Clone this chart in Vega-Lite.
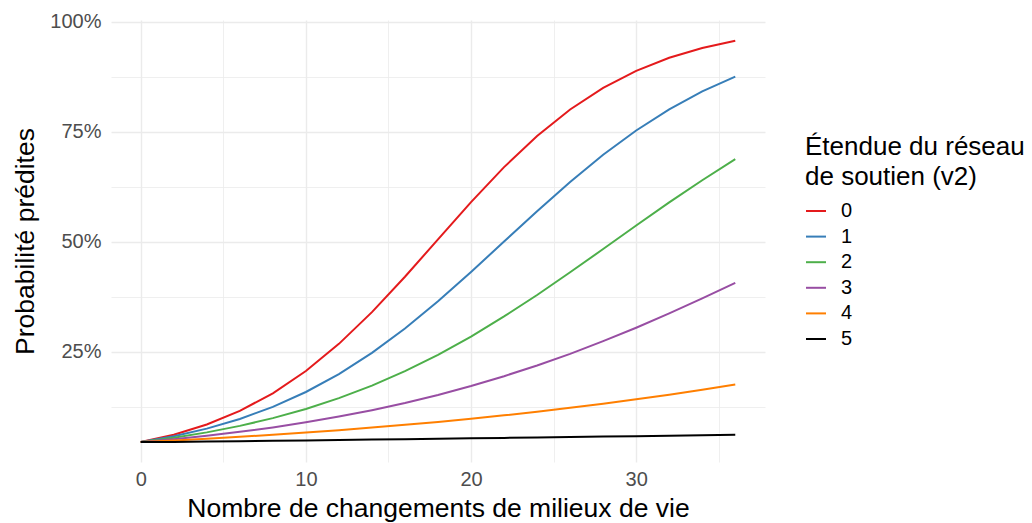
{
  "$schema": "https://vega.github.io/schema/vega-lite/v6.json",
  "autosize": {"type": "none"},
  "padding": {"left": 111, "top": 20, "right": 267, "bottom": 61},
  "width": 654,
  "height": 442,
  "background": "white",
  "config": {
    "view": {"stroke": null},
    "font": "Liberation Sans"
  },
  "data": {"values": [
    {"x":0,"g":"0","p":0.0455},{"x":2,"g":"0","p":0.0622},{"x":4,"g":"0","p":0.0854},{"x":6,"g":"0","p":0.1162},{"x":8,"g":"0","p":0.1562},{"x":10,"g":"0","p":0.2067},{"x":12,"g":"0","p":0.2684},{"x":14,"g":"0","p":0.3405},{"x":16,"g":"0","p":0.4209},{"x":18,"g":"0","p":0.5057},{"x":20,"g":"0","p":0.5903},{"x":22,"g":"0","p":0.6698},{"x":24,"g":"0","p":0.7406},{"x":26,"g":"0","p":0.8008},{"x":28,"g":"0","p":0.8498},{"x":30,"g":"0","p":0.8884},{"x":32,"g":"0","p":0.9181},{"x":34,"g":"0","p":0.9404},{"x":36,"g":"0","p":0.9569},
    {"x":0,"g":"1","p":0.0455},{"x":2,"g":"1","p":0.0586},{"x":4,"g":"1","p":0.0759},{"x":6,"g":"1","p":0.0979},{"x":8,"g":"1","p":0.1253},{"x":10,"g":"1","p":0.1591},{"x":12,"g":"1","p":0.1999},{"x":14,"g":"1","p":0.2481},{"x":16,"g":"1","p":0.3034},{"x":18,"g":"1","p":0.3652},{"x":20,"g":"1","p":0.4317},{"x":22,"g":"1","p":0.5008},{"x":24,"g":"1","p":0.5698},{"x":26,"g":"1","p":0.6362},{"x":28,"g":"1","p":0.6978},{"x":30,"g":"1","p":0.7531},{"x":32,"g":"1","p":0.8011},{"x":34,"g":"1","p":0.8417},{"x":36,"g":"1","p":0.8753},
    {"x":0,"g":"2","p":0.0455},{"x":2,"g":"2","p":0.0552},{"x":4,"g":"2","p":0.0674},{"x":6,"g":"2","p":0.0821},{"x":8,"g":"2","p":0.0997},{"x":10,"g":"2","p":0.1206},{"x":12,"g":"2","p":0.1452},{"x":14,"g":"2","p":0.1736},{"x":16,"g":"2","p":0.2065},{"x":18,"g":"2","p":0.2436},{"x":20,"g":"2","p":0.2851},{"x":22,"g":"2","p":0.3307},{"x":24,"g":"2","p":0.3794},{"x":26,"g":"2","p":0.4310},{"x":28,"g":"2","p":0.4838},{"x":30,"g":"2","p":0.5372},{"x":32,"g":"2","p":0.5898},{"x":34,"g":"2","p":0.6401},{"x":36,"g":"2","p":0.6879},
    {"x":0,"g":"3","p":0.0455},{"x":2,"g":"3","p":0.0519},{"x":4,"g":"3","p":0.0597},{"x":6,"g":"3","p":0.0686},{"x":8,"g":"3","p":0.0787},{"x":10,"g":"3","p":0.0902},{"x":12,"g":"3","p":0.1032},{"x":14,"g":"3","p":0.1178},{"x":16,"g":"3","p":0.1341},{"x":18,"g":"3","p":0.1524},{"x":20,"g":"3","p":0.1727},{"x":22,"g":"3","p":0.1950},{"x":24,"g":"3","p":0.2194},{"x":26,"g":"3","p":0.2458},{"x":28,"g":"3","p":0.2745},{"x":30,"g":"3","p":0.3051},{"x":32,"g":"3","p":0.3376},{"x":34,"g":"3","p":0.3717},{"x":36,"g":"3","p":0.4068},
    {"x":0,"g":"4","p":0.0455},{"x":2,"g":"4","p":0.0488},{"x":4,"g":"4","p":0.0528},{"x":6,"g":"4","p":0.0572},{"x":8,"g":"4","p":0.0619},{"x":10,"g":"4","p":0.0669},{"x":12,"g":"4","p":0.0724},{"x":14,"g":"4","p":0.0782},{"x":16,"g":"4","p":0.0845},{"x":18,"g":"4","p":0.0912},{"x":20,"g":"4","p":0.0984},{"x":22,"g":"4","p":0.1061},{"x":24,"g":"4","p":0.1143},{"x":26,"g":"4","p":0.1231},{"x":28,"g":"4","p":0.1325},{"x":30,"g":"4","p":0.1425},{"x":32,"g":"4","p":0.1530},{"x":34,"g":"4","p":0.1642},{"x":36,"g":"4","p":0.1761},
    {"x":0,"g":"5","p":0.0455},{"x":2,"g":"5","p":0.0458},{"x":4,"g":"5","p":0.0466},{"x":6,"g":"5","p":0.0475},{"x":8,"g":"5","p":0.0483},{"x":10,"g":"5","p":0.0492},{"x":12,"g":"5","p":0.0501},{"x":14,"g":"5","p":0.0510},{"x":16,"g":"5","p":0.0519},{"x":18,"g":"5","p":0.0529},{"x":20,"g":"5","p":0.0538},{"x":22,"g":"5","p":0.0548},{"x":24,"g":"5","p":0.0557},{"x":26,"g":"5","p":0.0568},{"x":28,"g":"5","p":0.0578},{"x":30,"g":"5","p":0.0588},{"x":32,"g":"5","p":0.0599},{"x":34,"g":"5","p":0.0609},{"x":36,"g":"5","p":0.0620}
  ]},
  "mark": {"type": "line", "strokeWidth": 2, "clip": true},
  "encoding": {
    "x": {
      "field": "x", "type": "quantitative",
      "scale": {"domain": [-1.8, 37.8], "nice": false, "zero": false},
      "axis": {
        "title": "Nombre de changements de milieux de vie",
        "values": [0, 5, 10, 15, 20, 25, 30, 35],
        "labelExpr": "datum.value % 10 === 0 ? datum.label : ''",
        "domain": false, "ticks": false,
        "grid": true, "gridColor": "#EBEBEB",
        "gridWidth": {"condition": {"test": "datum.value % 10 === 0", "value": 1.4}, "value": 0.8},
        "labelFont": "Liberation Sans", "labelFontSize": 20, "labelColor": "#4D4D4D", "labelPadding": 7,
        "titleFont": "Liberation Sans", "titleFontSize": 26.5, "titleFontWeight": "normal", "titleColor": "#000000", "titlePadding": 6
      }
    },
    "y": {
      "field": "p", "type": "quantitative",
      "scale": {"domain": [0.0001, 1.004], "nice": false, "zero": false},
      "axis": {
        "title": "Probabilité prédites",
        "values": [0.125, 0.25, 0.375, 0.5, 0.625, 0.75, 0.875, 1.0],
        "format": ".0%",
        "labelExpr": "round(datum.value * 8) % 2 === 0 ? datum.label : ''",
        "domain": false, "ticks": false,
        "grid": true, "gridColor": "#EBEBEB",
        "gridWidth": {"condition": {"test": "round(datum.value * 8) % 2 === 0", "value": 1.4}, "value": 0.8},
        "labelFont": "Liberation Sans", "labelFontSize": 20, "labelColor": "#4D4D4D", "labelPadding": 10,
        "titleFont": "Liberation Sans", "titleFontSize": 26.5, "titleFontWeight": "normal", "titleColor": "#000000", "titlePadding": 10
      }
    },
    "color": {
      "field": "g", "type": "nominal",
      "scale": {"domain": ["0", "1", "2", "3", "4", "5"], "range": ["#E41A1C", "#377EB8", "#4DAF4A", "#984EA3", "#FF7F00", "#000000"]},
      "legend": {
        "title": ["Étendue du réseau", "de soutien (v2)"],
        "orient": "none", "legendX": 694, "legendY": 114,
        "titleFont": "Liberation Sans", "titleFontSize": 26, "titleFontWeight": "normal", "titleColor": "#000000", "titleLineHeight": 30, "titlePadding": 10, "titleLimit": 500,
        "labelFont": "Liberation Sans", "labelFontSize": 20, "labelColor": "#000000", "labelOffset": 14,
        "symbolType": "stroke", "symbolSize": 400, "symbolStrokeWidth": 2, "rowPadding": 4.6
      }
    }
  }
}
